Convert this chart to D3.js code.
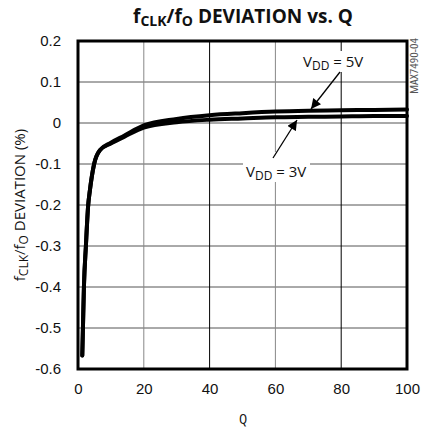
<!DOCTYPE html>
<html><head><meta charset="utf-8">
<script src="https://cdn.jsdelivr.net/npm/d3@7"></script>
<style>
body{margin:0;background:#fff;}
svg{display:block;font-family:"Open Sans",sans-serif;font-stretch:80%;}
</style></head><body>
<svg id="c" width="421" height="431"></svg>
<script>
const qValues   = [1.3, 1.5, 1.8, 2.4, 3.1, 3.6, 4.9, 6.7, 10, 14, 20, 30, 40, 50, 60, 70, 80, 90, 100];
const vdd5Values = [-0.567, -0.5, -0.4, -0.3, -0.2, -0.165, -0.1, -0.066, -0.048, -0.031, -0.006, 0.01, 0.019, 0.024, 0.028, 0.030, 0.031, 0.032, 0.033];
const vdd3Values = [-0.567, -0.5, -0.4, -0.3, -0.2, -0.165, -0.1, -0.066, -0.05, -0.034, -0.011, 0.002, 0.008, 0.011, 0.014, 0.015, 0.016, 0.017, 0.017];
const xTicks = [0, 20, 40, 60, 80, 100];
const yTicks = [0.2, 0.1, 0, -0.1, -0.2, -0.3, -0.4, -0.5, -0.6];
const yTickLabels = ["0.2", "0.1", "0", "-0.1", "-0.2", "-0.3", "-0.4", "-0.5", "-0.6"];

const svg = d3.select("#c");
const L = 78, R = 407, T = 41, B = 369;
const x = d3.scaleLinear().domain([0, 100]).range([L, R]);
const y = d3.scaleLinear().domain([-0.6, 0.2]).range([B, T]);

svg.append("g").selectAll("line").data(yTicks.slice(1, -1)).join("line")
  .attr("x1", L).attr("x2", R).attr("y1", d => y(d)).attr("y2", d => y(d))
  .attr("stroke", "#555").attr("stroke-width", 1);
svg.append("g").selectAll("line").data(xTicks.slice(1, -1)).join("line")
  .attr("y1", T).attr("y2", B).attr("x1", d => x(d)).attr("x2", d => x(d))
  .attr("stroke", (d, i) => i % 2 === 0 ? "#888" : "#000").attr("stroke-width", 1);

svg.append("rect").attr("x", 300).attr("y", 51).attr("width", 66).attr("height", 21).attr("fill", "#fff");
svg.append("rect").attr("x", 243).attr("y", 152).attr("width", 67).attr("height", 30).attr("fill", "#fff");

const line = vals => d3.line().x((d, i) => x(qValues[i])).y(d => y(d)).curve(d3.curveMonotoneX)(vals);
svg.append("path").attr("d", line(vdd3Values)).attr("fill", "none").attr("stroke", "#000").attr("stroke-width", 4).attr("stroke-linecap", "round");
svg.append("path").attr("d", line(vdd5Values)).attr("fill", "none").attr("stroke", "#000").attr("stroke-width", 4).attr("stroke-linecap", "round");

svg.append("rect").attr("x", L).attr("y", T).attr("width", R - L).attr("height", B - T)
  .attr("fill", "none").attr("stroke", "#000").attr("stroke-width", 3);

const yAxis = svg.append("g").attr("transform", `translate(${L},0)`)
  .call(d3.axisLeft(y).tickValues(yTicks).tickSize(0).tickPadding(17).tickFormat((d, i) => yTickLabels[i]));
yAxis.select(".domain").remove();
yAxis.selectAll("text").attr("font-size", 15).attr("fill", "#111").attr("font-family", null);
const xAxis = svg.append("g").attr("transform", `translate(0,${B})`)
  .call(d3.axisBottom(x).tickValues(xTicks).tickSize(0).tickPadding(14));
xAxis.select(".domain").remove();
xAxis.selectAll("text").attr("font-size", 15).attr("fill", "#111").attr("font-family", null);

const title = svg.append("text").attr("x", 243).attr("y", 23).attr("text-anchor", "middle")
  .attr("font-size", 19).attr("font-weight", "bold").attr("fill", "#111").style("font-stretch", "90%");
title.append("tspan").text("f");
title.append("tspan").text("CLK").attr("font-size", 14).attr("dy", 3);
title.append("tspan").text("/f").attr("dy", -3);
title.append("tspan").text("O").attr("font-size", 14).attr("dy", 3);
title.append("tspan").text(" DEVIATION vs. Q").attr("dy", -3);

svg.append("text").attr("x", 243).attr("y", 424).attr("text-anchor", "middle").attr("font-size", 15).attr("fill", "#111").text("Q");
const yl = svg.append("text").attr("transform", "translate(25,205) rotate(-90)").attr("text-anchor", "middle")
  .attr("font-size", 15).attr("fill", "#111").style("font-stretch", "100%");
yl.append("tspan").text("f");
yl.append("tspan").text("CLK").attr("font-size", 12).attr("dy", 3);
yl.append("tspan").text("/f").attr("dy", -3);
yl.append("tspan").text("O").attr("font-size", 12).attr("dy", 3);
yl.append("tspan").text(" DEVIATION (%)").attr("dy", -3);

function vddLabel(xp, yp, v) {
  const t = svg.append("text").attr("x", xp).attr("y", yp).attr("font-size", 15).attr("fill", "#111").style("font-stretch", "100%");
  t.append("tspan").text("V");
  t.append("tspan").text("DD").attr("font-size", 12).attr("dy", 3);
  t.append("tspan").text(" = " + v).attr("dy", -3);
}
vddLabel(303, 67, "5V");
vddLabel(246, 177, "3V");

svg.append("defs").append("marker").attr("id", "ah").attr("viewBox", "0 0 10 10").attr("refX", 10).attr("refY", 5)
  .attr("markerWidth", 11).attr("markerHeight", 10).attr("markerUnits", "userSpaceOnUse").attr("orient", "auto")
  .append("path").attr("d", "M0,0 L10,5 L0,10 Z").attr("fill", "#000");
function arrow(x1, y1, x2, y2) {
  svg.append("line").attr("x1", x1).attr("y1", y1).attr("x2", x2).attr("y2", y2)
    .attr("stroke", "#000").attr("stroke-width", 1.3).attr("marker-end", "url(#ah)");
}
arrow(340, 72, 311, 109);
arrow(273, 158, 297, 120);

svg.append("text").attr("transform", "translate(418,38) rotate(-90)").attr("text-anchor", "end")
  .attr("font-size", 10).attr("textLength", 56).attr("lengthAdjust", "spacingAndGlyphs").attr("fill", "#555").text("MAX7490-04");
</script></body></html>
